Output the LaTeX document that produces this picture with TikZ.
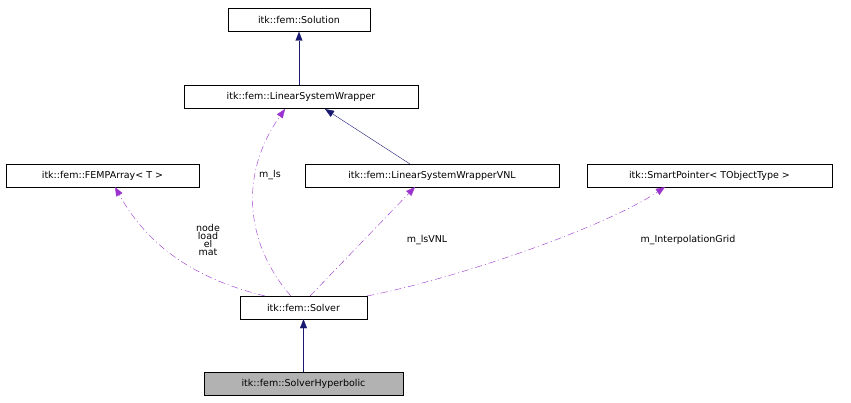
\documentclass[tikz,border=0pt]{standalone}
\usepackage{fontspec}
\setmainfont{DejaVu Sans}
\usetikzlibrary{arrows.meta}
\definecolor{navy}{HTML}{191970}
\definecolor{purp}{HTML}{9A32CD}
\begin{document}
\begin{tikzpicture}[x=1pt,y=-1pt,
  box/.style={draw,rectangle,inner sep=0pt,minimum height=23pt,font=\fontsize{9.5}{11}\selectfont},
  inh/.style={navy,-{Triangle[length=9pt,width=7pt]}},
  use/.style={purp,dash pattern=on 7pt off 3pt on 1pt off 3pt,-{Triangle[length=9pt,width=7pt]}},
  lab/.style={font=\fontsize{9.5}{11}\selectfont,align=center}]
\useasboundingbox (0,0) rectangle (851,403);
\node[box,minimum width=142pt] (sol) at (299,20) {itk::fem::Solution};
\node[box,minimum width=234pt] (lsw) at (301,97) {itk::fem::LinearSystemWrapper};
\node[box,minimum width=193pt] (fem) at (102.5,175.5) {itk::fem::FEMPArray< T >};
\node[box,minimum width=254pt] (vnl) at (432,175.5) {itk::fem::LinearSystemWrapperVNL};
\node[box,minimum width=245pt] (sp) at (709.5,175.5) {itk::SmartPointer< TObjectType >};
\node[box,minimum width=127pt] (solver) at (303.5,307.5) {itk::fem::Solver};
\node[box,minimum width=199pt,fill=black!30] (hyp) at (303.5,384) {itk::fem::SolverHyperbolic};
\draw[inh] (lsw.north -| sol) -- (sol.south);
\draw[inh] (410,164) -- (325,109);
\draw[inh] (hyp.north) -- (solver.south);
\draw[use] (291,296) .. controls (250,250) and (235,180) .. (285,109);
\node[lab] (l1) at (270,175) {m\_ls};
\draw[use] (265,296) .. controls (200,280) and (150,250) .. (115,187);
\node[lab] (l2) at (208,240) {node\\[-3pt]load\\[-3pt]el\\[-3pt]mat};
\draw[use] (310,296) -- (415,187);
\node[lab] (l3) at (427,240) {m\_lsVNL};
\draw[use] (367,296) .. controls (450,280) and (600,230) .. (665,187);
\node[lab] (l4) at (688,240) {m\_InterpolationGrid};
\end{tikzpicture}
\end{document}
